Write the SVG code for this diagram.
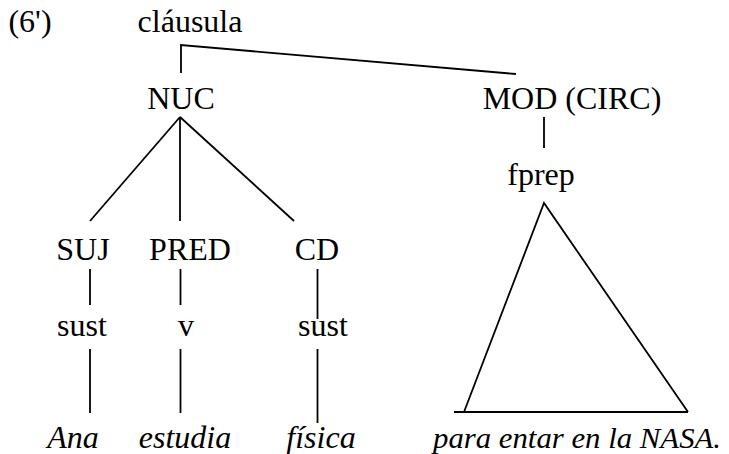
<svg xmlns="http://www.w3.org/2000/svg" width="729" height="454" viewBox="0 0 729 454">
<style>
text{font-family:'Liberation Serif','Tinos','Times New Roman','Times','Nimbus Roman','FreeSerif','Noto Serif','DejaVu Serif',serif;font-size:32px;fill:#000;text-anchor:middle}
.it{font-style:italic}
line,polyline{stroke:#000;stroke-width:1.8;fill:none}
</style>
<rect width="729" height="454" fill="#fff"/>
<text x="30" y="32">(6')</text>
<g id="clausula"><text x="190" y="32">cláusula</text></g>
<g id="nuc"><text x="181" y="109">NUC</text></g>
<g id="mod"><text x="572" y="109">MOD (CIRC)</text></g>
<g id="fprep"><text x="541" y="185">fprep</text></g>
<g id="suj"><text x="83" y="260">SUJ</text></g>
<g id="pred"><text x="190" y="260">PRED</text></g>
<g id="cd"><text x="317" y="260">CD</text></g>
<g id="sust1"><text x="82" y="336">sust</text></g>
<g id="v"><text x="186" y="336">v</text></g>
<g id="sust2"><text x="323" y="336">sust</text></g>
<g id="ana"><text class="it" x="73" y="448">Ana</text></g>
<g id="estudia"><text class="it" x="185" y="448">estudia</text></g>
<g id="fisica"><text class="it" x="321" y="448">física</text></g>
<g id="para"><text class="it" x="577" y="448" style="font-size:30px" textLength="288" lengthAdjust="spacingAndGlyphs">para entar en la NASA.</text></g>
<g id="connectors">
<polyline points="181,73 181,45 516,74"/>
<line x1="180" y1="117" x2="90" y2="221"/>
<line x1="180" y1="117" x2="180" y2="221"/>
<line x1="180" y1="117" x2="294" y2="221"/>
<line x1="544" y1="117" x2="544" y2="148"/>
<line x1="90" y1="269" x2="90" y2="305"/>
<line x1="180.5" y1="269" x2="180.5" y2="305"/>
<line x1="317.5" y1="269" x2="317.5" y2="319"/>
<line x1="90" y1="349" x2="90" y2="413"/>
<line x1="180.5" y1="349" x2="180.5" y2="413"/>
<line x1="317.5" y1="349" x2="317.5" y2="423"/>
<polyline points="464,412 544,203 688,412"/>
<line x1="454" y1="412" x2="688" y2="412"/>
</g>
</svg>
